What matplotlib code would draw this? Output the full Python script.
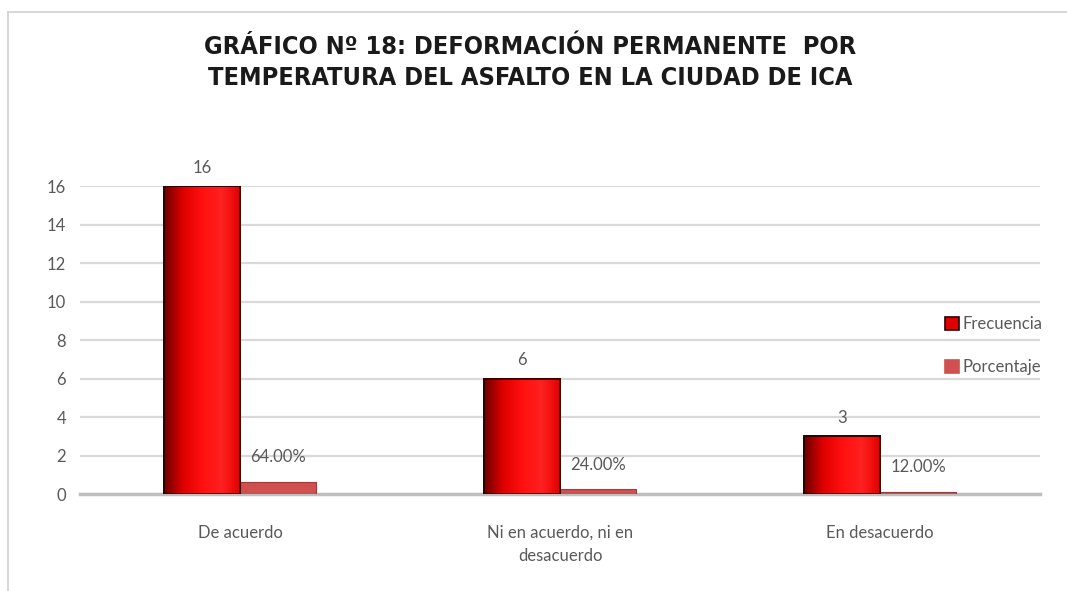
import numpy as np
import matplotlib
matplotlib.use("Agg")
import matplotlib.pyplot as plt
from matplotlib.lines import Line2D
from matplotlib.colors import LinearSegmentedColormap
from matplotlib import font_manager

categories = ["De acuerdo", "Ni en acuerdo, ni en\ndesacuerdo", "En desacuerdo"]
frecuencia = [16, 6, 3]
porcentaje = [0.64, 0.24, 0.12]
frec_labels = ["16", "6", "3"]
pct_labels = ["64.00%", "24.00%", "12.00%"]
yticks = [0, 2, 4, 6, 8, 10, 12, 14, 16]
title = "GRÁFICO Nº 18: DEFORMACIÓN PERMANENTE  POR\nTEMPERATURA DEL ASFALTO EN LA CIUDAD DE ICA"

fig = plt.figure(figsize=(10.67, 5.91), dpi=100)
ax = fig.add_axes([0.075, 0.164, 0.90, 0.521])

x = np.arange(len(categories))
w = 0.2375
b1 = ax.bar(x - w / 2, frecuencia, width=w, color="#FF0000", edgecolor="#3a0000", linewidth=1.2, zorder=3)
b2 = ax.bar(x + w / 2, porcentaje, width=w, color="#D05050", edgecolor="#A03a3a", linewidth=0.8, zorder=3)

cmap = LinearSegmentedColormap.from_list("g", ["#6a0000", "#E00000", "#FF1010", "#FF2020", "#E00000"])
grad = np.linspace(0, 1, 256).reshape(1, -1)
for bar in b1:
    x0, y0 = bar.get_x(), bar.get_y()
    ax.imshow(grad, extent=[x0, x0 + bar.get_width(), y0, y0 + bar.get_height()],
              aspect="auto", cmap=cmap, zorder=3.5, interpolation="bicubic")
    ax.add_patch(plt.Rectangle((x0, y0), bar.get_width(), bar.get_height(), fill=False,
                               edgecolor="#2a0000", linewidth=1.3, zorder=4))

ax.set_xlim(-0.5, 2.5)
ax.set_ylim(0, 16)
ax.set_yticks(yticks)
ax.set_yticklabels([str(t) for t in yticks], fontsize=12, color="#595959", family="Lato")
ax.set_xticks(x)
ax.set_xticklabels(categories, fontsize=12, color="#595959", family="Lato", linespacing=1.6)
ax.tick_params(axis="both", length=0, pad=10)
ax.tick_params(axis="x", pad=22)
ax.yaxis.grid(True, color="#D9D9D9", linewidth=1.6, zorder=0)
ax.set_axisbelow(True)
for s in ["top", "right", "left"]:
    ax.spines[s].set_visible(False)
ax.spines["bottom"].set_color("#BFBFBF")
ax.spines["bottom"].set_linewidth(2.5)

for i in range(len(categories)):
    ax.text(x[i] - w / 2, frecuencia[i] + 0.55, frec_labels[i], ha="center", va="bottom",
            fontsize=12, color="#595959", family="Lato", clip_on=False)
    ax.text(x[i] + w / 2, porcentaje[i] + 0.85, pct_labels[i], ha="center", va="bottom",
            fontsize=12, color="#595959", family="Lato", clip_on=False)

handles = [
    plt.Rectangle((0, 0), 1, 1, facecolor="#E00000", edgecolor="#2a0000", linewidth=1.2),
    plt.Rectangle((0, 0), 1, 1, facecolor="#D05050", edgecolor="#D05050", linewidth=1.2),
]
leg = fig.legend(handles, ["Frecuencia", "Porcentaje"], loc="center left",
                 bbox_to_anchor=(0.872, 0.415), frameon=False,
                 handlelength=0.8, handleheight=0.8, handletextpad=0.2, labelspacing=1.6,
                 prop={"family": "Lato", "size": 12})
for t in leg.get_texts():
    t.set_color("#595959")

cond = [f for f in font_manager.fontManager.ttflist if "Condensed" in f.fname and "Bold" in f.fname
        and "Oblique" not in f.fname]
if cond:
    tprops = dict(fontproperties=font_manager.FontProperties(fname=cond[0].fname, size=18.2))
else:
    tprops = dict(fontsize=18, fontweight="bold", family=["Liberation Sans Narrow", "DejaVu Sans"])
fig.text(0.497, 0.894, title, ha="center", va="center", linespacing=1.4, color="#1a1a1a", **tprops)

fig.add_artist(Line2D([0.0075, 0.0075], [0.0, 0.98], transform=fig.transFigure, color="#D0D0D0", linewidth=1.2))
fig.add_artist(Line2D([0.0075, 1.0], [0.98, 0.98], transform=fig.transFigure, color="#D0D0D0", linewidth=1.2))

fig.savefig("out.png", dpi=100, facecolor="white")
